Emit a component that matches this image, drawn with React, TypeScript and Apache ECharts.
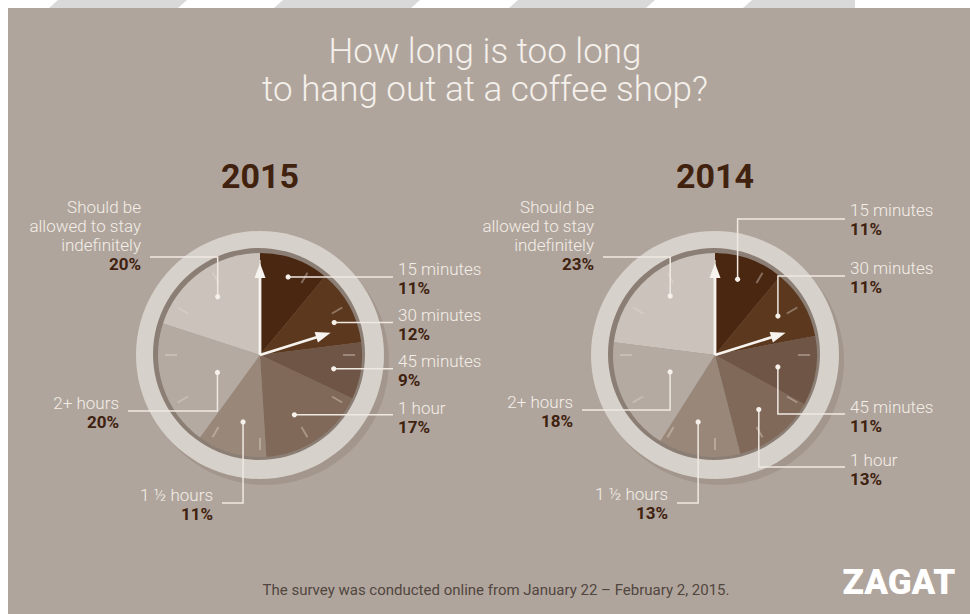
import React, { useEffect, useRef } from "react";
import * as echarts from "echarts";

// ---------- data ----------
const categories = [
  "15 minutes",
  "30 minutes",
  "45 minutes",
  "1 hour",
  "1 \u00bd hours",
  "2+ hours",
  "Should be\nallowed to stay\nindefinitely",
];
const values2015 = [11, 12, 9, 17, 11, 20, 20];
const values2014 = [11, 11, 11, 13, 13, 18, 23];
const years = ["2015", "2014"];
const titleLines = ["How long is too long", "to hang out at a coffee shop?"];
const footnote = "The survey was conducted online from January 22 \u2013 February 2, 2015.";
const brand = "ZAGAT";

// ---------- styles ----------
const sliceColors = ["#4a2711", "#5c391e", "#6f5545", "#806959", "#998879", "#b5aaa2", "#cac2bb"];
const BG = "#b0a59c";
const CREAM = "#f3eee8";
const DARK = "#3f2210";
const FONT = "Roboto, 'Noto Sans', sans-serif";
const LINE_STEP = 19;

type Lay = {
  frac: number;
  r: number;
  route: "h" | "v";
  elbowY?: number;
  endX: number;
  side: "left" | "right";
  pctDy: number;
};

const layout2015: Lay[] = [
  { frac: 0.5, r: 83, route: "h", endX: 393, side: "right", pctDy: 11 },
  { frac: 0.62, r: 81, route: "h", endX: 393, side: "right", pctDy: 11 },
  { frac: 0.55, r: 75, route: "h", endX: 393, side: "right", pctDy: 11 },
  { frac: 0.57, r: 69, route: "h", endX: 393, side: "right", pctDy: 12 },
  { frac: 0.45, r: 69, route: "v", elbowY: 503, endX: 222, side: "left", pctDy: 11 },
  { frac: 0.44, r: 46, route: "v", elbowY: 411, endX: 128, side: "left", pctDy: 11 },
  { frac: 0.5, r: 72, route: "v", elbowY: 257, endX: 150, side: "left", pctDy: 7 },
];
const layout2014: Lay[] = [
  { frac: 0.42, r: 79, route: "v", elbowY: 219, endX: 845, side: "right", pctDy: 10 },
  { frac: 0.47, r: 74, route: "v", elbowY: 276, endX: 845, side: "right", pctDy: 11 },
  { frac: 0.545, r: 64, route: "v", elbowY: 414, endX: 845, side: "right", pctDy: 12 },
  { frac: 0.48, r: 70, route: "v", elbowY: 467, endX: 845, side: "right", pctDy: 12 },
  { frac: 0.61, r: 69, route: "v", elbowY: 503, endX: 677, side: "left", pctDy: 10 },
  { frac: 0.57, r: 48, route: "v", elbowY: 410, endX: 582, side: "left", pctDy: 11 },
  { frac: 0.55, r: 74, route: "v", elbowY: 257, endX: 603, side: "left", pctDy: 7 },
];

const clocks = [
  { cx: 260, cy: 355, values: values2015, lay: layout2015, year: years[0] },
  { cx: 715, cy: 355, values: values2014, lay: layout2014, year: years[1] },
];

const DIAL_R = 102;
const RING_R = 124;
const BORDER_R = 106;

function pt(cx: number, cy: number, r: number, deg: number) {
  const a = (deg * Math.PI) / 180;
  return [cx + r * Math.sin(a), cy - r * Math.cos(a)];
}

function hand(cx: number, cy: number, deg: number, len: number) {
  const a = (deg * Math.PI) / 180;
  const ux = Math.sin(a), uy = -Math.cos(a);
  const px = Math.cos(a), py = Math.sin(a);
  const tx = cx + ux * len, ty = cy + uy * len;
  const bx = tx - ux * 15, by = ty - uy * 15;
  return [
    {
      type: "line",
      z: 20,
      silent: true,
      shape: { x1: cx, y1: cy, x2: bx + ux * 2, y2: by + uy * 2 },
      style: { stroke: "#f7f3ef", lineWidth: 2.8 },
    },
    {
      type: "polygon",
      z: 20,
      silent: true,
      shape: {
        points: [
          [tx, ty],
          [bx + px * 5.5, by + py * 5.5],
          [bx - px * 5.5, by - py * 5.5],
        ],
      },
      style: { fill: "#f7f3ef" },
    },
  ];
}

function buildClock(c: typeof clocks[number]) {
  const { cx, cy, values, lay, year } = c;
  const total = values.reduce((s, v) => s + v, 0);
  const graphics: any[] = [];

  // ring + shadow + dark border
  graphics.push({ type: "circle", z: 1, silent: true, shape: { cx: cx + 5, cy: cy + 6, r: RING_R }, style: { fill: "#a3978d" } });
  graphics.push({ type: "circle", z: 1, silent: true, shape: { cx, cy, r: RING_R }, style: { fill: "#d7d1cb" } });
  graphics.push({ type: "circle", z: 1, silent: true, shape: { cx: cx - 1, cy: cy - 1, r: BORDER_R }, style: { fill: "#8b7e74" } });

  // year
  graphics.push({
    type: "text",
    z: 5,
    silent: true,
    x: cx,
    y: 176,
    style: { text: year, fill: "#41220f", fontFamily: FONT, fontSize: 34, fontWeight: "bold", align: "center", verticalAlign: "middle" },
  });

  // labels
  let acc = 0;
  values.forEach((v, i) => {
    const a0 = (acc / total) * 360;
    acc += v;
    const a1 = (acc / total) * 360;
    const L = lay[i];
    const mid = a0 + L.frac * (a1 - a0);
    const [dx, dy] = pt(cx, cy, L.r, mid);
    let pts: number[][];
    let leaderY: number;
    if (L.route === "h") {
      leaderY = dy;
      pts = [[dx, dy], [L.endX, dy]];
    } else {
      leaderY = L.elbowY as number;
      pts = [[dx, dy], [dx, leaderY], [L.endX, leaderY]];
    }
    graphics.push({
      type: "polyline",
      z: 15,
      silent: true,
      shape: { points: pts },
      style: { stroke: "#efe9e2", lineWidth: 1.5, fill: null },
    });
    graphics.push({ type: "circle", z: 16, silent: true, shape: { cx: dx, cy: dy, r: 2.6 }, style: { fill: "#f5f0ea" } });

    const tx = L.side === "right" ? L.endX + 5 : L.endX - 9;
    const align = L.side === "right" ? "left" : "right";
    const pctY = leaderY + L.pctDy;
    const n = categories[i].split("\n").length;
    graphics.push({
      type: "text",
      z: 16,
      silent: true,
      x: tx,
      y: pctY - 19 - ((n - 1) * LINE_STEP) / 2,
      style: {
        text: categories[i],
        fill: CREAM,
        fontFamily: FONT,
        fontSize: 17,
        fontWeight: 300,
        lineHeight: LINE_STEP,
        align,
        verticalAlign: "middle",
      },
    });
    graphics.push({
      type: "text",
      z: 16,
      silent: true,
      x: tx,
      y: pctY,
      style: { text: v + "%", fill: DARK, fontFamily: FONT, fontSize: 17, fontWeight: "bold", align, verticalAlign: "middle" },
    });
  });

  // hands
  graphics.push(...hand(cx, cy, 0, 92));
  graphics.push(...hand(cx, cy, 72.6, 74));

  const series: any[] = [
    {
      type: "pie",
      center: [cx, cy],
      radius: [0, DIAL_R],
      startAngle: 90,
      clockwise: true,
      silent: true,
      z: 5,
      label: { show: false },
      labelLine: { show: false },
      emphasis: { disabled: true },
      itemStyle: { borderWidth: 0 },
      data: values.map((v, i) => ({ name: categories[i], value: v, itemStyle: { color: sliceColors[i] } })),
    },
    {
      type: "gauge",
      center: [cx, cy],
      radius: 95,
      startAngle: 90,
      endAngle: -270,
      min: 0,
      max: 12,
      splitNumber: 12,
      silent: true,
      z: 6,
      axisLine: { show: false, lineStyle: { width: 0 } },
      splitLine: { show: true, length: 12, distance: 0, lineStyle: { color: "rgba(232,222,214,0.38)", width: 2 } },
      axisTick: { show: false },
      axisLabel: { show: false },
      pointer: { show: false },
      anchor: { show: false },
      title: { show: false },
      detail: { show: false },
      data: [{ value: 0 }],
    },
  ];
  return { graphics, series };
}

export default function App() {
  const ref = useRef<HTMLDivElement>(null);
  useEffect(() => {
    if (!ref.current) return;
    const chart = echarts.init(ref.current, undefined, { renderer: "svg" });

    const graphics: any[] = [];
    // header stripes
    const stripes = [
      [58, 187],
      [283, 420],
      [518, 655],
      [752, 855],
    ];
    stripes.forEach(([a, b], i) => {
      const last = i === stripes.length - 1;
      graphics.push({
        type: "polygon",
        z: 0,
        silent: true,
        shape: { points: [[a, 0], [b, 0], [last ? b : b - 9, 8], [a - 9, 8]] },
        style: { fill: "#d9d9d9" },
      });
    });
    graphics.push({ type: "rect", z: 0, silent: true, shape: { x: 8, y: 8, width: 962, height: 606 }, style: { fill: BG } });

    // title
    titleLines.forEach((t, i) => {
      graphics.push({
        type: "text",
        z: 5,
        silent: true,
        x: 485,
        y: 51 + i * 38,
        style: { text: t, fill: "#f4f0eb", fontFamily: FONT, fontSize: 35, fontWeight: 300, align: "center", verticalAlign: "middle" },
      });
    });
    graphics.push({
      type: "text",
      z: 5,
      silent: true,
      x: 496,
      y: 590,
      style: { text: footnote, fill: "#51463f", fontFamily: FONT, fontSize: 15, align: "center", verticalAlign: "middle" },
    });
    graphics.push({
      type: "text",
      z: 5,
      silent: true,
      x: 899,
      y: 582,
      style: { text: brand, fill: "#ffffff", fontFamily: FONT, fontSize: 35, fontWeight: 900, align: "center", verticalAlign: "middle" },
    });

    const series: any[] = [];
    clocks.forEach((c) => {
      const r = buildClock(c);
      graphics.push(...r.graphics);
      series.push(...r.series);
    });

    chart.setOption({
      animation: false,
      backgroundColor: "#ffffff",
      graphic: { elements: graphics },
      series,
    });
    return () => chart.dispose();
  }, []);
  return <div ref={ref} style={{ position: "fixed", left: 0, top: 0, width: 970, height: 614 }} />;
}
